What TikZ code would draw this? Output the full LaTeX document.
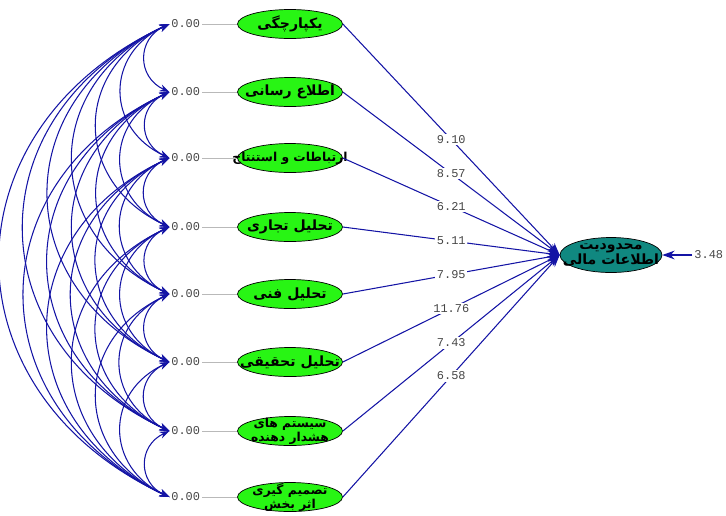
\documentclass[tikz,border=0pt]{standalone}
\usepackage{fontspec}
\setmonofont{Liberation Mono}
\newfontfamily\farsi[Script=Arabic]{DejaVu Sans}
\TeXXeTstate=1
\usepackage{tikz}
\usetikzlibrary{shapes.geometric, arrows.meta, positioning}

\definecolor{varGreen}{RGB}{40,245,20}
\definecolor{varTeal}{RGB}{16,136,128}
\definecolor{pathBlue}{RGB}{20,20,165}
\definecolor{numGray}{RGB}{70,70,70}

\tikzset{
    dimbox/.style={ellipse,draw=black,fill=varGreen,minimum width=2.1cm,minimum height=0.58cm,inner xsep=-25pt,inner ysep=-6pt,align=center,font=\farsi\bfseries\fontsize{8}{8}\selectfont},
    twoline/.style={font=\farsi\bfseries\fontsize{7}{6.5}\selectfont},
    varnum/.style={inner sep=1pt,text=numGray,font=\ttfamily\fontsize{6.8}{8}\selectfont},
    coef/.style={fill=white,inner sep=1pt,text=numGray,font=\ttfamily\fontsize{6.8}{8}\selectfont},
    cov/.style={draw=pathBlue,line width=0.6pt,{Stealth[length=5.5pt,width=4pt]}-{Stealth[length=5.5pt,width=4pt]}},
    effect/.style={draw=pathBlue,line width=0.6pt,-{Stealth[length=7pt,width=5pt]}}
}

\begin{document}
\begin{tikzpicture}[x=0.02cm,y=-0.02cm]
    \useasboundingbox (0,0) rectangle (726,515);

    % Abaad (chap)
    \node[dimbox] (dim1) at (290,24) {\beginR یکپارچگی\endR};
    \node[dimbox] (dim2) at (290,92) {\beginR اطلاع رسانی\endR};
    \node[dimbox,font=\farsi\bfseries\fontsize{7}{7}\selectfont] (dim3) at (290,158) {\beginR ارتباطات و استنتاج\endR};
    \node[dimbox] (dim4) at (290,227) {\beginR تحلیل تجاری\endR};
    \node[dimbox] (dim5) at (290,294) {\beginR تحلیل فنی\endR};
    \node[dimbox] (dim6) at (290,362) {\beginR تحلیل تحقیقی\endR};
    \node[dimbox,twoline] (dim7) at (290,431) {\beginR سیستم های\endR\\\beginR هشدار دهنده\endR};
    \node[dimbox,twoline] (dim8) at (290,497) {\beginR تصمیم گیری\endR\\\beginR اثر بخش\endR};

    % Motaghayer (rast)
    \node[dimbox,fill=varTeal,minimum width=2.04cm,minimum height=0.7cm,font=\farsi\bfseries\fontsize{8}{7.5}\selectfont] (limit) at (611,255) {\beginR محدودیت\endR\\\beginR اطلاعات مالی\endR};
    \node[varnum,right=0.6cm of limit] (err) {3.48};
    \draw[effect] (err.west) -- (limit.east);

    % Variansha
    \foreach \k in {1,...,8}{
        \node[varnum,left=0.7cm of dim\k] (vr\k) {0.00};
        \draw[gray!55] (vr\k.east) -- (dim\k.west);
    }

    % Kovariansha
    \foreach \i in {1,...,7}{
        \pgfmathtruncatemacro\nxt{\i+1}
        \foreach \j in {\nxt,...,8}
            \draw[cov] (vr\i.west) to[bend right=65,looseness=1.35] (vr\j.west);
    }

    % Masirha
    \draw[effect] (dim1.east) -- node[coef] {9.10} (limit.west);
    \draw[effect] (dim2.east) -- node[coef] {8.57} (limit.west);
    \draw[effect] (dim3.east) -- node[coef] {6.21} (limit.west);
    \draw[effect] (dim4.east) -- node[coef] {5.11} (limit.west);
    \draw[effect] (dim5.east) -- node[coef] {7.95} (limit.west);
    \draw[effect] (dim6.east) -- node[coef] {11.76} (limit.west);
    \draw[effect] (dim7.east) -- node[coef] {7.43} (limit.west);
    \draw[effect] (dim8.east) -- node[coef] {6.58} (limit.west);
\end{tikzpicture}
\end{document}
